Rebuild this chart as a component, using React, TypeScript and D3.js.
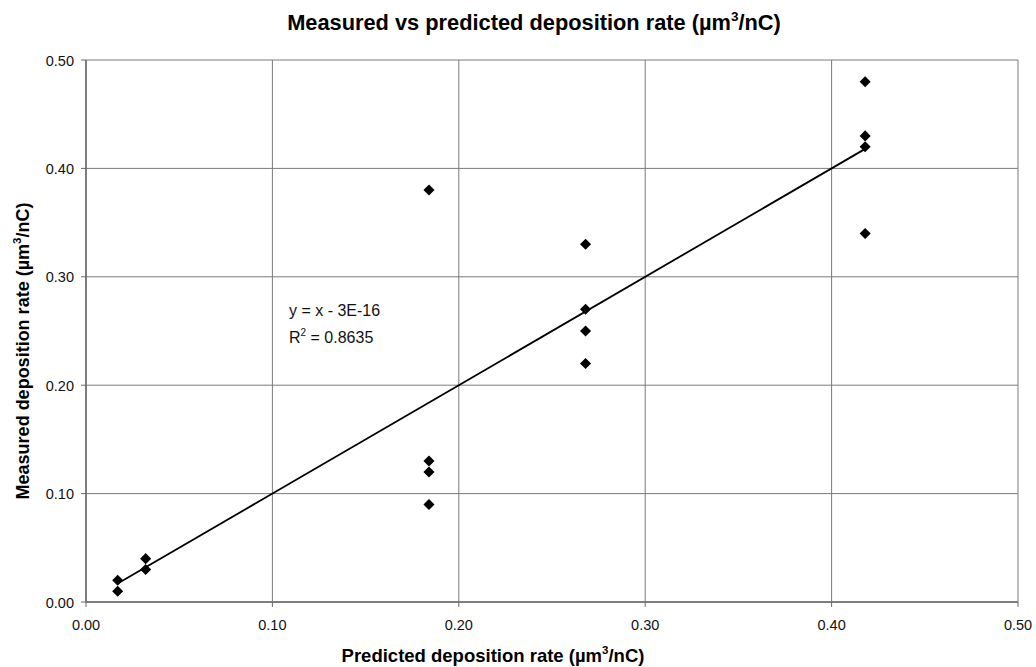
import React from "react";
import * as d3 from "d3";

const predicted = [0.017, 0.017, 0.032, 0.032, 0.184, 0.184, 0.184, 0.184, 0.268, 0.268, 0.268, 0.268, 0.418, 0.418, 0.418, 0.418];
const measured = [0.02, 0.01, 0.04, 0.03, 0.38, 0.13, 0.12, 0.09, 0.33, 0.27, 0.25, 0.22, 0.48, 0.43, 0.42, 0.34];
const tickValues = [0, 0.1, 0.2, 0.3, 0.4, 0.5];
const trendSlope = 1;
const trendIntercept = -3e-16;
const equationText = "y = x - 3E-16";
const r2Value = "0.8635";

const W = 1036;
const H = 667;
const M = { left: 86, right: 1018, top: 60, bottom: 602 };
const FONT = "'Liberation Sans', Arial, sans-serif";

export default function App() {
  const x = d3.scaleLinear().domain([0, 0.5]).range([M.left, M.right]);
  const y = d3.scaleLinear().domain([0, 0.5]).range([M.bottom, M.top]);
  const fmt = d3.format(".2f");
  const diamond = d3.symbol().type(d3.symbolDiamond2).size(78)();
  const xMin = d3.min(predicted)!;
  const xMax = d3.max(predicted)!;
  const line = d3.line<number>().x((d) => x(d)).y((d) => y(trendSlope * d + trendIntercept));

  return (
    <svg width={W} height={H} style={{ position: "absolute", left: 0, top: 0, background: "#fff" }} fontFamily={FONT}>
      <rect x={0} y={0} width={W} height={H} fill="#fff" />
      {tickValues.map((t) => (
        <line key={"gx" + t} x1={x(t)} x2={x(t)} y1={M.top} y2={M.bottom} stroke="#7a7a7a" strokeWidth={1} />
      ))}
      {tickValues.map((t) => (
        <line key={"gy" + t} x1={M.left} x2={M.right} y1={y(t)} y2={y(t)} stroke="#7a7a7a" strokeWidth={1} />
      ))}
      <line x1={M.left} x2={M.left} y1={M.top} y2={M.bottom} stroke="#6a6a6a" strokeWidth={1.5} />
      <line x1={M.left} x2={M.right} y1={M.bottom} y2={M.bottom} stroke="#6a6a6a" strokeWidth={1.5} />
      {tickValues.map((t) => (
        <line key={"tx" + t} x1={x(t)} x2={x(t)} y1={M.bottom} y2={M.bottom + 5} stroke="#6a6a6a" strokeWidth={1} />
      ))}
      {tickValues.map((t) => (
        <line key={"ty" + t} x1={M.left - 5} x2={M.left} y1={y(t)} y2={y(t)} stroke="#6a6a6a" strokeWidth={1} />
      ))}
      {tickValues.map((t) => (
        <text key={"lx" + t} x={x(t)} y={M.bottom + 28} textAnchor="middle" fontSize={14.5} fill="#111">
          {fmt(t)}
        </text>
      ))}
      {tickValues.map((t) => (
        <text key={"ly" + t} x={M.left - 12} y={y(t) + 5.5} textAnchor="end" fontSize={14.5} fill="#111">
          {fmt(t)}
        </text>
      ))}
      <path d={line([xMin, xMax]) || ""} stroke="#000" strokeWidth={1.8} fill="none" />
      {predicted.map((p, i) => (
        <path key={"pt" + i} d={diamond || ""} transform={`translate(${x(p)},${y(measured[i])})`} fill="#000" />
      ))}
      <text x={289} y={316} fontSize={16} fill="#111">{equationText}</text>
      <text x={289} y={343} fontSize={16} fill="#111">
        R<tspan fontSize={10} dy={-7}>2</tspan>
        <tspan dy={7}>{" = " + r2Value}</tspan>
      </text>
      <text x={534} y={30} textAnchor="middle" fontSize={21.8} fontWeight="bold" fill="#000">
        Measured vs predicted deposition rate (µm<tspan fontSize={13.5} dy={-9}>3</tspan>
        <tspan dy={9}>/nC)</tspan>
      </text>
      <text x={493} y={662} textAnchor="middle" fontSize={18.5} fontWeight="bold" fill="#000">
        Predicted deposition rate (µm<tspan fontSize={11.5} dy={-8}>3</tspan>
        <tspan dy={8}>/nC)</tspan>
      </text>
      <text transform="translate(29,351) rotate(-90)" textAnchor="middle" fontSize={18} fontWeight="bold" fill="#000">
        Measured deposition rate (µm<tspan fontSize={11.5} dy={-8}>3</tspan>
        <tspan dy={8}>/nC)</tspan>
      </text>
    </svg>
  );
}
